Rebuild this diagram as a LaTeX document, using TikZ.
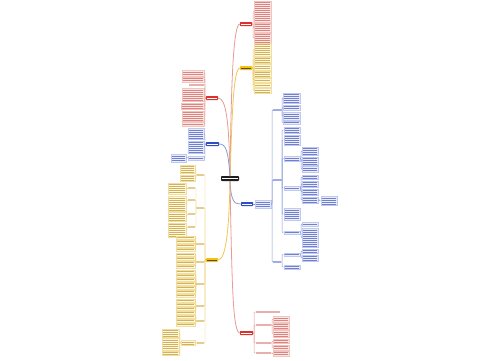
\documentclass[tikz,border=0pt]{standalone}
\usetikzlibrary{patterns.meta}
\definecolor{rN}{HTML}{D8322E}
\definecolor{rF}{HTML}{FCE8E6}
\definecolor{rD}{HTML}{F2C4C0}
\definecolor{rT}{HTML}{DC8480}
\definecolor{rL}{HTML}{E89A96}
\definecolor{yN}{HTML}{F5C211}
\definecolor{yF}{HTML}{FFF9E2}
\definecolor{yD}{HTML}{F0DFA0}
\definecolor{yT}{HTML}{D2B25E}
\definecolor{yL}{HTML}{F0C850}
\definecolor{bN}{HTML}{2F4FBF}
\definecolor{bF}{HTML}{ECEFFB}
\definecolor{bD}{HTML}{C0C8EE}
\definecolor{bT}{HTML}{7080D0}
\definecolor{bL}{HTML}{8A9AD8}
\tikzset{
  bxbase/.style={inner sep=0pt, outer sep=0pt, line width=0.3pt},
  stripes/.style={path picture={\fill[pattern={Lines[distance=2pt,line width=0.55pt]}, pattern color=#1]
      ([shift={(0.9,0.9)}]path picture bounding box.north west) rectangle
      ([shift={(-0.9,-0.9)}]path picture bounding box.south east);}},
  midline/.style={path picture={\draw[#1, line width=0.7pt]
      ([shift={(1,0)}]path picture bounding box.west) -- ([shift={(-1,0)}]path picture bounding box.east);}},
  rbox/.style={bxbase, fill=rF, draw=rD, stripes=rT},
  ybox/.style={bxbase, fill=yF, draw=yD, stripes=yT},
  bbox/.style={bxbase, fill=bF, draw=bD, stripes=bT},
  yitem/.style={bxbase, fill=yF, draw=yD, midline=yT},
  bitem/.style={bxbase, fill=bF, draw=bD, midline=bT},
  rlbl/.style={bxbase, fill=rT!65},
  ylbl/.style={bxbase, fill=yT!65},
  blbl/.style={bxbase, fill=bT!65},
  rnode/.style={bxbase, fill=rN, rounded corners=0.6pt, midline=white},
  ynode/.style={bxbase, fill=yN, rounded corners=0.6pt, midline=black!70},
  bnode/.style={bxbase, fill=bN, rounded corners=0.6pt, midline=white},
  cnode/.style={bxbase, fill=black!88, rounded corners=0.8pt, midline=white},
  rline/.style={draw=rL, line width=0.8pt},
  yline/.style={draw=yL, line width=0.8pt},
  bline/.style={draw=bL, line width=0.8pt},
  rsp/.style={draw=rL, line width=0.45pt},
  ysp/.style={draw=yL, line width=0.45pt},
  bsp/.style={draw=bL, line width=0.45pt},
}
\newcommand\mmbox[6]{\node[#1, minimum width=#5pt, minimum height=#6pt, anchor=north west] (#2) at (#3,#4) {};}
\newcommand\mmR[3]{\draw[#1, rounded corners=0.6pt] (#2.east) -- ++(1.2,0) |- (#3.west);}
\newcommand\mmL[3]{\draw[#1, rounded corners=0.6pt] (#2.west) -- ++(-1,0) |- (#3.east);}
\begin{document}
\begin{tikzpicture}[x=1pt,y=-1pt]
\fill[white] (0,0) rectangle (500,360);
\useasboundingbox (0,0) rectangle (500,360);

% central
\mmbox{cnode}{C}{221}{176}{18}{5}

% top red branch
\mmbox{rnode}{R1}{240}{22}{12}{4}
\mmbox{rbox}{P1}{254}{1}{17}{21}
\mmbox{rbox}{P2}{254}{23}{17}{9}
\mmbox{rbox}{P3}{254}{33}{17}{10}
\foreach \c in {P1,P2,P3} {\mmR{rsp}{R1}{\c}}

% top yellow branch
\mmbox{ynode}{Y1}{240}{66}{12}{4}
\mmbox{ybox}{Ya}{254}{43}{17}{13}
\mmbox{ybox}{Yb}{254}{57}{17}{6}
\mmbox{ybox}{Yc}{254}{64}{17}{6}
\mmbox{ybox}{Yd}{254}{71}{17}{6}
\mmbox{yitem}{Ye}{254}{78}{17}{4}
\mmbox{yitem}{Yf}{254}{83}{17}{4}
\mmbox{ybox}{Yg}{254}{88}{17}{5}
\foreach \c in {Ya,Yb,Yc,Yd,Ye,Yf,Yg} {\mmR{ysp}{Y1}{\c}}

% left red branch
\mmbox{rnode}{RL}{206}{96}{12}{4}
\mmbox{rbox}{La}{182}{70}{22}{6}
\mmbox{rbox}{Lb}{182}{77}{22}{5}
\mmbox{rlbl}{Lc}{189}{83.5}{15}{2}
\mmbox{rbox}{Ld}{182}{88}{22}{13}
\mmbox{rbox}{Le}{181}{103}{23}{6}
\mmbox{rbox}{Lf}{182}{111}{22}{10}
\mmbox{rbox}{Lg}{182}{122}{22}{4}
\foreach \c in {La,Lb,Lc,Ld,Le,Lf,Lg} {\mmL{rsp}{RL}{\c}}

% left blue branch
\mmbox{bnode}{BL}{206}{142}{13}{4}
\mmbox{bbox}{BA}{188}{128}{16}{11}
\mmbox{bbox}{BB}{188}{141}{16}{12}
\mmbox{bbox}{BC}{188}{156}{16}{4}
\mmbox{bbox}{BD}{171}{154}{15}{8}
\foreach \c in {BA,BB,BC} {\mmL{bsp}{BL}{\c}}
\mmL{bsp}{BC}{BD}

% left yellow branch
\mmbox{ynode}{YL}{206}{258}{12}{4}
\mmbox{ylbl}{Q1}{197}{174}{7}{2}
\mmbox{ylbl}{Q2}{197}{207}{7}{2}
\mmbox{ylbl}{Q3}{197}{243}{7}{2}
\mmbox{ylbl}{Q4}{197}{261}{7}{2}
\mmbox{ylbl}{Q5}{197}{283}{7}{2}
\mmbox{ylbl}{Q6}{197}{305}{7}{2}
\mmbox{ylbl}{Q7}{197}{320}{7}{2}
\mmbox{ylbl}{Q8}{197}{342}{7}{2}
\foreach \c in {Q1,Q2,Q3,Q4,Q5,Q6,Q7,Q8} {\mmL{ysp}{YL}{\c}}
\mmbox{ybox}{Q1a}{180}{165}{15}{8}
\mmbox{ybox}{Q1b}{180}{175}{15}{6}
\mmL{ysp}{Q1}{Q1a}
\mmL{ysp}{Q1}{Q1b}
\mmbox{ylbl}{M1}{188}{187}{7}{2}
\mmbox{ylbl}{M2}{188}{199}{7}{2}
\mmbox{ylbl}{M3}{188}{213}{7}{2}
\mmbox{ylbl}{M4}{188}{226}{7}{2}
\foreach \c in {M1,M2,M3,M4} {\mmL{ysp}{Q2}{\c}}
\mmbox{ybox}{M1b}{168}{183}{18}{11}
\mmbox{ybox}{M2b}{168}{196}{18}{15}
\mmbox{ybox}{M3b}{168}{212}{18}{9}
\mmbox{ybox}{M4b}{168}{223}{18}{14}
\foreach \c in {1,2,3,4} {\mmL{ysp}{M\c}{M\c b}}
\foreach \y [count=\i] in {236,240,244,248} {\mmbox{yitem}{Q3i\i}{176}{\y}{19}{3}\mmL{ysp}{Q3}{Q3i\i}}
\foreach \y [count=\i] in {253,257,261,265} {\mmbox{yitem}{Q4i\i}{176}{\y}{19}{3}\mmL{ysp}{Q4}{Q4i\i}}
\foreach \y [count=\i] in {270,274,278,282,286,290,294} {\mmbox{yitem}{Q5i\i}{176}{\y}{19}{3}\mmL{ysp}{Q5}{Q5i\i}}
\foreach \y [count=\i] in {299,303,307,311} {\mmbox{yitem}{Q6i\i}{176}{\y}{19}{3}\mmL{ysp}{Q6}{Q6i\i}}
\foreach \y [count=\i] in {315,319,323} {\mmbox{yitem}{Q7i\i}{176}{\y}{19}{3}\mmL{ysp}{Q7}{Q7i\i}}
\mmbox{ybox}{H}{181}{340}{14}{5}
\mmL{ysp}{Q8}{H}
\mmbox{ybox}{H1}{162}{329}{17}{8}
\mmbox{ybox}{H2}{162}{338}{17}{12}
\mmbox{ybox}{H3}{162}{351}{17}{4}
\foreach \c in {H1,H2,H3} {\mmL{ysp}{H}{\c}}

% right blue branch
\mmbox{bnode}{BR}{241}{202}{12}{4}
\mmbox{bbox}{E}{255}{200}{16}{8}
\draw[bsp] (BR.east) -- (E.west);
\mmbox{blbl}{K1}{273}{109}{8}{2}
\mmbox{blbl}{K2}{273}{179}{8}{2}
\mmbox{blbl}{K3}{273}{261}{8}{2}
\foreach \c in {K1,K2,K3} {\mmR{bsp}{E}{\c}}
\mmbox{bbox}{K1a}{283}{93}{17}{10}
\mmbox{bbox}{K1b}{283}{105}{17}{5}
\mmbox{bbox}{K1c}{283}{112}{17}{8}
\mmbox{bitem}{K1d}{283}{121}{17}{3}
\foreach \c in {K1a,K1b,K1c,K1d} {\mmR{bsp}{K1}{\c}}
\mmbox{bbox}{K2a}{284}{127}{16}{6}
\mmbox{bbox}{K2b}{284}{135}{16}{10}
\mmbox{bbox}{K2c}{284}{156}{16}{5}
\mmbox{bitem}{K2d}{284}{186}{16}{4}
\mmbox{bbox}{K2e}{284}{208}{16}{12}
\mmbox{bitem}{K2f}{284}{231}{16}{3}
\foreach \c in {K2a,K2b,K2c,K2d,K2e,K2f} {\mmR{bsp}{K2}{\c}}
\mmbox{bbox}{K2c1}{302}{147}{16}{8}
\mmbox{bbox}{K2c2}{302}{157}{16}{8}
\mmbox{bbox}{K2c3}{302}{166}{16}{6}
\foreach \c in {K2c1,K2c2,K2c3} {\mmR{bsp}{K2c}{\c}}
\mmbox{bbox}{K2d1}{302}{175}{16}{4}
\mmbox{bbox}{K2d2}{302}{181}{16}{6}
\mmbox{bbox}{K2d3}{302}{189}{16}{6}
\mmbox{bbox}{K2d4}{302}{197}{16}{6}
\foreach \c in {K2d1,K2d2,K2d3,K2d4} {\mmR{bsp}{K2d}{\c}}
\mmbox{bbox}{K2d4a}{321}{196}{16}{9}
\mmR{bsp}{K2d4}{K2d4a}
\mmbox{bbox}{K2f1}{302}{222}{16}{4}
\mmbox{bbox}{K2f2}{302}{228}{16}{19}
\mmR{bsp}{K2f}{K2f1}
\mmR{bsp}{K2f}{K2f2}
\mmbox{bitem}{K3a}{284}{253}{16}{3}
\mmbox{bbox}{K3b}{284}{265}{16}{4}
\mmR{bsp}{K3}{K3a}
\mmR{bsp}{K3}{K3b}
\mmbox{bbox}{K3a1}{302}{249}{16}{4}
\mmbox{bbox}{K3a2}{302}{255}{16}{6}
\mmR{bsp}{K3a}{K3a1}
\mmR{bsp}{K3a}{K3a2}

% bottom red branch
\mmbox{rnode}{RB}{240}{331}{13}{4}
\mmbox{rlbl}{S1}{256}{311}{24}{2}
\mmbox{rlbl}{S2}{256}{324}{15}{2}
\mmbox{rlbl}{S3}{256}{342}{15}{2}
\mmbox{rlbl}{S4}{256}{352}{15}{2}
\foreach \c in {S1,S2,S3,S4} {\mmR{rsp}{RB}{\c}}
\mmbox{rbox}{S2a}{273}{316}{16}{6}
\mmbox{rbox}{S2b}{273}{323}{16}{6}
\mmbox{rbox}{S2c}{273}{330}{16}{7}
\foreach \c in {S2a,S2b,S2c} {\mmR{rsp}{S2}{\c}}
\mmbox{rbox}{S3a}{273}{339}{16}{4}
\mmbox{rbox}{S3b}{273}{345}{16}{5}
\mmR{rsp}{S3}{S3a}
\mmR{rsp}{S3}{S3b}
\mmbox{rbox}{S4a}{273}{351}{16}{5}
\mmR{rsp}{S4}{S4a}

% main curves
\draw[rline] (C.north) .. controls (231,110) and (232,23) .. (R1.west);
\draw[yline] (C.north) .. controls (232,120) and (233,68) .. (Y1.west);
\draw[rline] (C.north) .. controls (229,120) and (226,98) .. (RL.east);
\draw[bline] (C.north) .. controls (228,150) and (226,144) .. (BL.east);
\draw[yline] (C.south) .. controls (229,230) and (226,260) .. (YL.east);
\draw[bline] (C.south) .. controls (231,203) and (235,204) .. (BR.west);
\draw[rline] (C.south) .. controls (232,290) and (233,333) .. (RB.west);
\end{tikzpicture}
\end{document}
